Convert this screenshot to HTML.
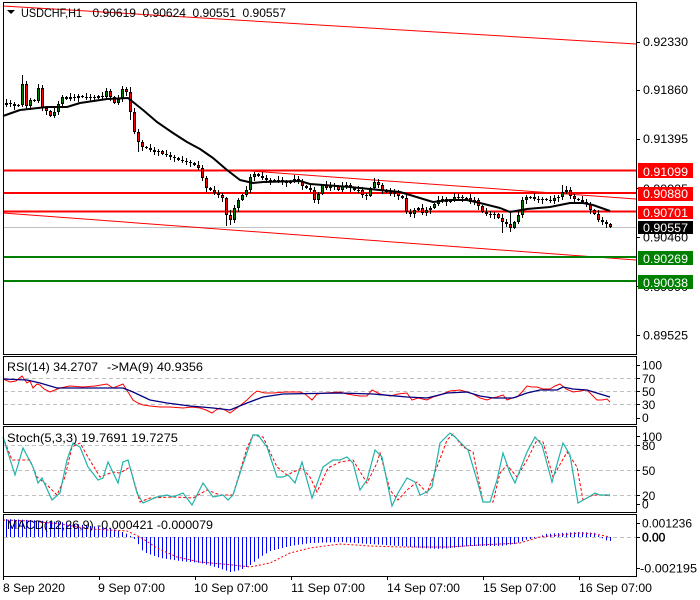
<!DOCTYPE html>
<html><head><meta charset="utf-8">
<style>
html,body{margin:0;padding:0;background:#fff;}
svg{display:block;}
text{font-family:"Liberation Sans",sans-serif;font-size:12px;fill:#000;}
.w{fill:#fff;}
</style></head><body>
<svg id="s" width="700" height="600" viewBox="0 0 700 600" xmlns="http://www.w3.org/2000/svg">
<rect width="700" height="600" fill="#fff"/>

<!-- ===== MAIN PANEL ===== -->
<line x1="3" y1="227.5" x2="636" y2="227.5" stroke="#c0c0c0" stroke-width="1"/>
<!-- trend / channel lines -->
<line x1="3" y1="6" x2="636" y2="44" stroke="#ff0000" stroke-width="1"/>
<line x1="250" y1="171" x2="636" y2="199" stroke="#ff0000" stroke-width="1"/>
<line x1="3" y1="213" x2="636" y2="260" stroke="#ff0000" stroke-width="1"/>
<!-- horizontal levels -->
<line x1="3" y1="170.5" x2="636" y2="170.5" stroke="#ff0000" stroke-width="2"/>
<line x1="3" y1="193" x2="636" y2="193" stroke="#ff0000" stroke-width="2"/>
<line x1="3" y1="211.5" x2="636" y2="211.5" stroke="#ff0000" stroke-width="2"/>
<line x1="3" y1="257" x2="636" y2="257" stroke="#008000" stroke-width="2"/>
<line x1="3" y1="281" x2="636" y2="281" stroke="#008000" stroke-width="2"/>

<g id="candles"></g>
<polyline fill="none" stroke="#000" stroke-width="2" stroke-linejoin="round" points="3,116 20,110 47,107 67,107 80,103 107,99 128,98 133,102 143,110 157,122 173,133 187,142 200,149 213,158 227,170 240,180 253,183 263,182 300,181 310,184 350,187 400,192 410,195 433,202 450,200 467,200 480,203 500,208 510,212 527,209 550,207 570,203 583,203 593,205 610,211"/>

<!-- header -->
<polygon points="7,10 15,10 11,14" fill="#000"/>
<text x="21" y="17" textLength="61" lengthAdjust="spacingAndGlyphs">USDCHF,H1</text>
<text x="92.5" y="17" textLength="43.5" lengthAdjust="spacingAndGlyphs">0.90619</text>
<text x="142.5" y="17" textLength="43.5" lengthAdjust="spacingAndGlyphs">0.90624</text>
<text x="192.5" y="17" textLength="43.5" lengthAdjust="spacingAndGlyphs">0.90551</text>
<text x="242.5" y="17" textLength="43.5" lengthAdjust="spacingAndGlyphs">0.90557</text>

<!-- ===== RSI PANEL ===== -->
<g stroke="#c0c0c0" stroke-width="1" stroke-dasharray="4,3">
<line x1="4" y1="378.5" x2="636" y2="378.5"/>
<line x1="4" y1="391.5" x2="636" y2="391.5"/>
<line x1="4" y1="404.5" x2="636" y2="404.5"/>
</g>
<polyline fill="none" stroke="#ff0000" stroke-width="1" points="3,379 10,382 16,381 22,376 27,383 30,381 33,388 37,384 40,385 44,389 50,392 55,390 60,388 70,386 83,387 95,386 107,384 113,388 118,386 123,384 128,392 133,400 138,403 143,405 150,406 160,407 170,407 183,408 192,407 200,408 206,410 212,413 216,410 220,408 225,410 230,413 237,408 242,404 247,400 252,395 257,391 265,393 273,393 285,392 300,392 305,394 312,400 317,394 325,393 340,392 347,394 353,395 360,396 367,396 372,390 380,394 390,396 398,394 407,393 412,400 418,398 427,400 433,397 440,395 450,391 460,390 467,392 473,394 480,398 487,400 492,398 497,397 503,395 507,400 512,398 517,397 522,392 527,386 532,387 537,387 543,389 550,389 555,386 560,384 566,389 573,392 580,391 587,390 592,395 597,400 602,400 607,399 610,402"/>
<polyline fill="none" stroke="#000080" stroke-width="1.3" points="3,379 27,380 40,383 57,388 83,388 123,388 133,392 150,400 167,403 190,406 213,408 230,410 247,403 263,397 283,394 340,393 373,394 407,397 427,398 447,393 467,392 480,396 493,398 513,398 527,393 540,390 557,390 563,387 573,389 587,390 600,394 610,397"/>
<text x="7" y="371" textLength="91" lengthAdjust="spacingAndGlyphs">RSI(14) 34.2707</text>
<text x="107" y="371" textLength="96" lengthAdjust="spacingAndGlyphs">-&gt;MA(9) 40.9356</text>

<!-- ===== STOCH PANEL ===== -->
<g stroke="#c0c0c0" stroke-width="1" stroke-dasharray="4,3">
<line x1="4" y1="445.5" x2="636" y2="445.5"/>
<line x1="4" y1="470.5" x2="636" y2="470.5"/>
<line x1="4" y1="495.5" x2="636" y2="495.5"/>
</g>
<polyline fill="none" stroke="#ff0000" stroke-width="1" stroke-dasharray="3,2" points="3,437 12,460 30,460 37,477 47,485 57,495 65,477 72,447 80,443 88,457 100,477 113,472 120,473 130,467 140,502 150,498 173,497 193,498 207,490 220,495 233,495 247,448 253,435 263,437 277,467 287,475 302,468 310,477 317,492 328,468 340,462 353,460 367,483 377,463 380,453 390,490 398,500 407,490 417,482 427,493 437,467 447,440 453,434 463,447 473,452 483,502 493,502 500,473 507,465 517,477 527,460 537,440 543,442 553,477 567,452 577,467 583,500 593,495 603,495 610,496"/>
<polyline fill="none" stroke="#20b2aa" stroke-width="1.2" points="3,437 15,475 23,448 33,467 38,483 42,478 52,500 60,493 67,460 73,443 80,447 88,467 98,480 103,478 108,462 118,483 123,462 128,460 137,493 143,503 157,497 167,495 173,497 183,493 192,505 203,483 213,497 223,495 228,500 233,495 242,467 253,435 258,435 267,447 277,477 283,477 288,475 295,483 302,462 312,498 323,467 333,460 340,460 347,457 353,463 360,490 367,480 375,450 382,457 392,506 398,493 407,478 415,482 420,495 427,492 432,487 440,443 450,433 455,437 465,447 468,450 477,480 483,502 490,502 497,480 503,453 510,473 515,483 527,452 535,437 542,445 552,482 563,443 570,455 578,503 587,498 595,493 600,495 610,495"/>
<text x="7" y="442" textLength="171" lengthAdjust="spacingAndGlyphs">Stoch(5,3,3) 19.7691 19.7275</text>

<!-- ===== MACD PANEL ===== -->
<line x1="4" y1="537.5" x2="636" y2="537.5" stroke="#c0c0c0" stroke-width="1" stroke-dasharray="4,3"/>
<g id="hist"></g>
<polyline fill="none" stroke="#ff0000" stroke-width="1" stroke-dasharray="2,2" points="3,520 30,521 60,524 90,529 127,531 140,537 157,548 177,557 200,562 233,565 250,567 270,563 290,553 310,548 340,544 370,546 400,547 450,547 480,545 520,543 540,537 560,535 580,533 595,534 610,537"/>
<text x="7" y="529" textLength="206" lengthAdjust="spacingAndGlyphs">MACD(12,26,9) -0.000421 -0.000079</text>

<!-- ===== PANEL BORDERS ===== -->
<g fill="none" stroke="#000" stroke-width="1">
<rect x="3.5" y="2.5" width="633" height="352"/>
<rect x="3.5" y="356.5" width="633" height="68"/>
<rect x="3.5" y="426.5" width="633" height="86"/>
<rect x="3.5" y="514.5" width="633" height="62"/>
</g>

<!-- price axis ticks -->
<g stroke="#000" stroke-width="1">
<line x1="636" y1="42.5" x2="640" y2="42.5"/>
<line x1="636" y1="90.5" x2="640" y2="90.5"/>
<line x1="636" y1="139.5" x2="640" y2="139.5"/>
<line x1="636" y1="188.5" x2="640" y2="188.5"/>
<line x1="636" y1="237.5" x2="640" y2="237.5"/>
<line x1="636" y1="286.5" x2="640" y2="286.5"/>
<line x1="636" y1="335.5" x2="640" y2="335.5"/>
<line x1="636" y1="365.5" x2="640" y2="365.5"/>
<line x1="636" y1="378.5" x2="640" y2="378.5"/>
<line x1="636" y1="391.5" x2="640" y2="391.5"/>
<line x1="636" y1="404.5" x2="640" y2="404.5"/>
<line x1="636" y1="418.5" x2="640" y2="418.5"/>
<line x1="636" y1="436.5" x2="640" y2="436.5"/>
<line x1="636" y1="445.5" x2="640" y2="445.5"/>
<line x1="636" y1="470.5" x2="640" y2="470.5"/>
<line x1="636" y1="495.5" x2="640" y2="495.5"/>
<line x1="636" y1="504.5" x2="640" y2="504.5"/>
<line x1="636" y1="523.5" x2="640" y2="523.5"/>
<line x1="636" y1="537.5" x2="640" y2="537.5"/>
<line x1="636" y1="568.5" x2="640" y2="568.5"/>
<!-- time ticks -->
<line x1="3.5" y1="576" x2="3.5" y2="580"/>
<line x1="99.5" y1="576" x2="99.5" y2="580"/>
<line x1="195.5" y1="576" x2="195.5" y2="580"/>
<line x1="291.5" y1="576" x2="291.5" y2="580"/>
<line x1="387.5" y1="576" x2="387.5" y2="580"/>
<line x1="483.5" y1="576" x2="483.5" y2="580"/>
<line x1="579.5" y1="576" x2="579.5" y2="580"/>
</g>

<!-- price axis labels -->
<text x="643" y="46" textLength="45" lengthAdjust="spacingAndGlyphs">0.92330</text>
<text x="643" y="94" textLength="45" lengthAdjust="spacingAndGlyphs">0.91860</text>
<text x="643" y="143" textLength="45" lengthAdjust="spacingAndGlyphs">0.91395</text>
<text x="643" y="193" textLength="45" lengthAdjust="spacingAndGlyphs">0.90925</text>
<text x="643" y="241.5" textLength="45" lengthAdjust="spacingAndGlyphs">0.90460</text>
<text x="643" y="291" textLength="45" lengthAdjust="spacingAndGlyphs">0.89990</text>
<text x="643" y="339.5" textLength="45" lengthAdjust="spacingAndGlyphs">0.89525</text>

<!-- level label boxes -->
<rect x="638" y="163" width="55" height="15" fill="#ff0000"/>
<text class="w" x="643" y="176" textLength="45" lengthAdjust="spacingAndGlyphs">0.91099</text>
<rect x="638" y="187" width="55" height="14" fill="#ff0000"/>
<text class="w" x="643" y="198" textLength="45" lengthAdjust="spacingAndGlyphs">0.90880</text>
<rect x="638" y="206" width="55" height="13" fill="#ff0000"/>
<text class="w" x="643" y="217" textLength="45" lengthAdjust="spacingAndGlyphs">0.90701</text>
<rect x="638" y="221" width="55" height="13" fill="#000"/>
<text class="w" x="643" y="232" textLength="45" lengthAdjust="spacingAndGlyphs">0.90557</text>
<rect x="638" y="251" width="55" height="14" fill="#008000"/>
<text class="w" x="643" y="263" textLength="45" lengthAdjust="spacingAndGlyphs">0.90269</text>
<rect x="638" y="275" width="55" height="14" fill="#008000"/>
<text class="w" x="643" y="287" textLength="45" lengthAdjust="spacingAndGlyphs">0.90038</text>

<!-- RSI scale -->
<text x="642" y="369.5">100</text>
<text x="642" y="383">70</text>
<text x="642" y="396">50</text>
<text x="642" y="409">30</text>
<text x="642" y="422">0</text>
<!-- Stoch scale -->
<text x="642" y="441">100</text>
<text x="642" y="450">80</text>
<text x="642" y="475">50</text>
<text x="642" y="500">20</text>
<text x="642" y="508.5">0</text>
<!-- MACD scale -->
<text x="642" y="527.5" textLength="50" lengthAdjust="spacingAndGlyphs">0.001236</text>
<text x="642" y="541.5" stroke="#000" stroke-width="0.4">0.00</text>
<text x="640" y="572.5" textLength="57" lengthAdjust="spacingAndGlyphs">-0.002195</text>

<!-- time labels -->
<text x="3" y="592" textLength="62" lengthAdjust="spacingAndGlyphs">8 Sep 2020</text>
<text x="98" y="592" textLength="67" lengthAdjust="spacingAndGlyphs">9 Sep 07:00</text>
<text x="194" y="592" textLength="74" lengthAdjust="spacingAndGlyphs">10 Sep 07:00</text>
<text x="291" y="592" textLength="74" lengthAdjust="spacingAndGlyphs">11 Sep 07:00</text>
<text x="387" y="592" textLength="73" lengthAdjust="spacingAndGlyphs">14 Sep 07:00</text>
<text x="483" y="592" textLength="73" lengthAdjust="spacingAndGlyphs">15 Sep 07:00</text>
<text x="579" y="592" textLength="73" lengthAdjust="spacingAndGlyphs">16 Sep 07:00</text>
</svg>
<script>
(function(){
var NS="http://www.w3.org/2000/svg";
function el(t,a,p){var e=document.createElementNS(NS,t);for(var k in a)e.setAttribute(k,a[k]);p.appendChild(e);return e;}
var C=[[6,103],[10,104],[14,106],[18,105],[22,84],[26,106],[30,100],[34,101],[38,88],[42,108],[46,111],[50,116],[54,112],[58,104],[62,97],[66,99],[70,97],[74,98],[78,96],[82,97],[86,98],[90,97],[94,98],[98,96],[102,97],[106,91],[110,97],[114,103],[118,99],[122,89],[126,92],[130,112],[134,132],[138,142],[142,147],[146,148],[150,150],[154,152],[158,151],[162,154],[166,155],[170,157],[174,158],[178,160],[182,161],[186,162],[190,163],[194,165],[198,168],[202,178],[206,188],[210,190],[214,193],[218,195],[222,198],[226,215],[230,220],[234,208],[238,200],[242,195],[246,190],[250,177],[254,174],[258,176],[262,178],[266,180],[270,180],[274,181],[278,180],[282,182],[286,183],[290,181],[294,179],[298,181],[302,186],[306,188],[310,190],[314,200],[318,194],[322,185],[326,188],[330,185],[334,186],[338,190],[342,186],[346,185],[350,188],[354,190],[358,190],[362,195],[366,196],[370,188],[374,182],[378,185],[382,190],[386,192],[390,194],[394,192],[398,196],[402,198],[406,212],[410,214],[414,210],[418,208],[422,213],[426,210],[430,208],[434,204],[438,200],[442,199],[446,202],[450,200],[454,197],[458,197],[462,198],[466,198],[470,202],[474,200],[478,206],[482,212],[486,214],[490,215],[494,214],[498,218],[502,222],[506,224],[510,228],[514,222],[518,215],[522,200],[526,197],[530,197],[534,199],[538,200],[542,199],[546,200],[550,201],[554,198],[558,197],[562,192],[566,190],[570,196],[574,199],[578,200],[582,202],[586,204],[590,210],[594,214],[598,220],[602,222],[606,224],[610,227]];
var EX={22:[75,107],26:[83,110],130:[87,120],138:[137,152],226:[197,226],230:[210,225],502:[215,233],510:[213,232],562:[185,200],122:[86,98]};
var g=document.getElementById('candles');
var prev=C[0][1]+2;
for(var i=0;i<C.length;i++){
 var x=C[i][0],c=C[i][1],o=prev;prev=c;
 var top=Math.min(o,c),bot=Math.max(o,c);
 if(bot-top<1)bot=top+1;
 var hi=top-(1+((i*7+3)%4)),lo=bot+(1+((i*5+1)%4));
 if(EX[x]){hi=Math.min(hi,EX[x][0]);lo=Math.max(lo,EX[x][1]);}
 el('line',{x1:x+0.5,x2:x+0.5,y1:hi,y2:lo,stroke:'#000','stroke-width':1},g);
 el('rect',{x:x-1,y:top,width:3,height:bot-top,fill:'#000'},g);
 if(bot-top>2)el('rect',{x:x,y:top+1,width:1,height:bot-top-2,fill:(c<o?'#008000':'#ff0000')},g);
}
var A=[[3,519],[30,520],[60,522],[90,526],[110,528],[125,533],[132,537],[136,541],[143,552],[160,558],[180,561],[200,563],[215,567],[230,572],[240,570],[250,565],[260,557],[270,551],[290,546],[310,543],[340,542],[370,544],[400,546],[420,548],[440,549],[470,546],[500,546],[515,544],[525,540],[535,538],[545,534],[560,533],[580,532],[595,533],[600,537],[605,540],[610,541]];
function interp(x){for(var j=0;j<A.length-1;j++){if(x>=A[j][0]&&x<=A[j+1][0]){var t=(x-A[j][0])/(A[j+1][0]-A[j][0]);return A[j][1]+t*(A[j+1][1]-A[j][1]);}}return A[A.length-1][1];}
var h=document.getElementById('hist');
for(var i=0;i<C.length;i++){
 var x=C[i][0],y=interp(x);
 el('line',{x1:x+0.5,x2:x+0.5,y1:537,y2:y,stroke:'#0000ff','stroke-width':1},h);
}
})();
</script>
</body></html>
